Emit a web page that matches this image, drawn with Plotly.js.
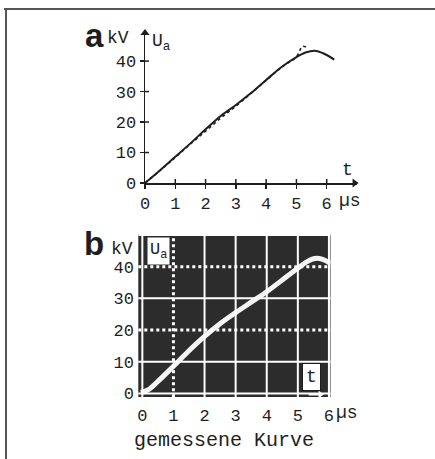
<!DOCTYPE html>
<html>
<head>
<meta charset="utf-8">
<script src="https://cdn.plot.ly/plotly-3.0.1.min.js"></script>
<style>
  html, body { margin: 0; padding: 0; background: #fff; }
  #chart { width: 435px; height: 459px; }
</style>
</head>
<body>
<div id="chart"></div>
<script>
// ─────────────────────────────
// DATA
// ─────────────────────────────
// a: calculated (solid) and dashed comparison curve
const tCalc = [0, 0.5, 1, 1.5, 2, 2.5, 3, 3.5, 4, 4.5, 5, 5.3, 5.6, 5.9, 6.25];
const uCalc = [0, 4.2, 8.6, 13, 17.6, 22, 25.6, 29.5, 33.8, 38, 41.3, 42.8, 43.4, 42.5, 40.5];
const tDash = [0, 0.5, 1, 1.5, 2, 2.5, 3, 3.5, 4, 4.5, 5, 5.2, 5.35];
const uDash = [0, 4.1, 8.4, 12.8, 17, 21.3, 25.2, 29.4, 33.7, 37.9, 41.4, 44.8, 44.4];

// b: measured curve (oscilloscope)
const tMeas = [-0.05, 0.2, 0.5, 1, 1.5, 2, 2.5, 3, 3.5, 4, 4.5, 5, 5.3, 5.55, 5.8, 6.05];
const uMeas = [0.3, 1.2, 3.8, 8.6, 13.5, 18, 22, 25.5, 28.8, 32.1, 35.8, 39.5, 41.6, 42.6, 42.3, 41];

const tTicks = [0, 1, 2, 3, 4, 5, 6];
const uTicks = [0, 10, 20, 30, 40];

// oscilloscope grid
const gridSolidT = [0, 2, 3, 4, 5, 6];
const gridDotT = [1];
const gridSolidU = [0, 10, 30, 50];
const gridDotU = [20, 40];

// axis ranges
const tRangeA = [0, 7];
const uRangeA = [0, 50.2];
const tRangeB = [-0.13, 6.05];
const uRangeB = [-1.2, 50.3];

// ─────────────────────────────
// LAYOUT HELPERS (pixel -> paper)
// ─────────────────────────────
const W = 435, H = 459;
const px = x => x / W;
const py = y => 1 - y / H;

const MONO = 'Liberation Mono, DejaVu Sans Mono, monospace';
const SANS = 'Liberation Sans, Arial, sans-serif';
const INK = '#1e1e1e';
const SCREEN = '#2c2c2c';

// chart a plot box (pixels)
const A_LEFT = 145, A_RIGHT = 357, A_TOP = 30, A_BOTTOM = 183;

function txt(x, y, text, size, extra = {}) {
  return Object.assign({
    xref: 'paper', yref: 'paper', x: px(x), y: py(y),
    text, showarrow: false, xanchor: 'center', yanchor: 'middle',
    font: { family: MONO, size, color: INK }
  }, extra);
}

// ─────────────────────────────
// TRACES
// ─────────────────────────────
const traces = [
  {
    x: tDash, y: uDash, xaxis: 'x', yaxis: 'y', mode: 'lines',
    line: { color: INK, width: 1.6, dash: 'dot', shape: 'spline' }, hoverinfo: 'skip'
  },
  {
    x: tCalc, y: uCalc, xaxis: 'x', yaxis: 'y', mode: 'lines',
    line: { color: INK, width: 2, shape: 'spline' }, hoverinfo: 'skip'
  },
  // arrow heads on the axes of chart a
  {
    x: [tRangeA[1] - 0.08], y: [0], xaxis: 'x', yaxis: 'y', mode: 'markers', cliponaxis: false,
    marker: { symbol: 'triangle-right', size: 8, color: INK }, hoverinfo: 'skip'
  },
  {
    x: [0], y: [uRangeA[1] - 1], xaxis: 'x', yaxis: 'y', mode: 'markers', cliponaxis: false,
    marker: { symbol: 'triangle-up', size: 8, color: INK }, hoverinfo: 'skip'
  },
  {
    x: tMeas, y: uMeas, xaxis: 'x2', yaxis: 'y2', mode: 'lines',
    line: { color: '#f4f4f4', width: 5, shape: 'spline' }, hoverinfo: 'skip'
  },
  // little time arrow under the "t" box
  {
    x: [5.35, 5.7], y: [-0.3, -0.3], xaxis: 'x2', yaxis: 'y2', mode: 'lines', cliponaxis: false,
    line: { color: '#fff', width: 2 }, hoverinfo: 'skip'
  },
  {
    x: [5.72], y: [-0.3], xaxis: 'x2', yaxis: 'y2', mode: 'markers', cliponaxis: false,
    marker: { symbol: 'triangle-right', size: 7, color: '#fff' }, hoverinfo: 'skip'
  }
];

// ─────────────────────────────
// SHAPES
// ─────────────────────────────
const shapes = [
  // screen background of chart b
  { type: 'rect', xref: 'x2 domain', yref: 'y2 domain', x0: 0, x1: 1, y0: 0, y1: 1,
    fillcolor: SCREEN, line: { width: 0 }, layer: 'below' },
  // page frame (top + left)
  { type: 'line', xref: 'paper', yref: 'paper', x0: px(4), x1: 1, y0: py(9), y1: py(9),
    line: { color: '#555', width: 2 } },
  { type: 'line', xref: 'paper', yref: 'paper', x0: px(6), x1: px(6), y0: py(8), y1: 0,
    line: { color: '#555', width: 2 } }
];

// inner half of the crossing ticks in chart a
tTicks.slice(1).forEach(t => shapes.push({
  type: 'line', xref: 'x', yref: 'paper', x0: t, x1: t,
  y0: py(A_BOTTOM), y1: py(A_BOTTOM - 4), line: { color: INK, width: 1.5 }
}));
uTicks.slice(1).forEach(u => shapes.push({
  type: 'line', xref: 'paper', yref: 'y', x0: px(A_LEFT), x1: px(A_LEFT + 4),
  y0: u, y1: u, line: { color: INK, width: 1.5 }
}));

// oscilloscope grid of chart b
gridSolidT.forEach(t => shapes.push({
  type: 'line', xref: 'x2', yref: 'y2 domain', x0: t, x1: t, y0: 0, y1: 1,
  line: { color: '#fff', width: 2 }
}));
gridDotT.forEach(t => shapes.push({
  type: 'line', xref: 'x2', yref: 'y2 domain', x0: t, x1: t, y0: 0, y1: 1,
  line: { color: '#fff', width: 3, dash: 'dot' }
}));
gridSolidU.forEach(u => shapes.push({
  type: 'line', xref: 'x2 domain', yref: 'y2', x0: 0, x1: 1, y0: u, y1: u,
  line: { color: '#fff', width: 2 }
}));
gridDotU.forEach(u => shapes.push({
  type: 'line', xref: 'x2 domain', yref: 'y2', x0: 0, x1: 1, y0: u, y1: u,
  line: { color: '#fff', width: 3, dash: 'dot' }
}));

// ─────────────────────────────
// ANNOTATIONS
// ─────────────────────────────
const annotations = [
  // chart a
  txt(94, 36, '<b>a</b>', 33, { font: { family: SANS, size: 33, color: INK } }),
  txt(118, 38, 'kV', 18),
  txt(161, 42, 'U<sub>a</sub>', 18),
  txt(347, 170, 't', 18),
  txt(350, 201, 'µs', 18),

  // chart b
  txt(94, 243, '<b>b</b>', 33, { font: { family: SANS, size: 33, color: INK } }),
  txt(122, 249, 'kV', 18),
  txt(158, 251, 'U<sub>a</sub>', 17, { bgcolor: '#fff', borderpad: 2 }),
  txt(311, 377, 't', 18, { bgcolor: '#fff', bordercolor: INK, borderwidth: 1, borderpad: 3 }),
  txt(347, 413, 'µs', 18),
  txt(224, 440, 'gemessene Kurve', 20)
];

// ─────────────────────────────
// LAYOUT
// ─────────────────────────────
const tickFont = { family: MONO, size: 17, color: INK };

const layout = {
  width: W, height: H,
  margin: { l: 0, r: 0, t: 0, b: 0 },
  paper_bgcolor: '#fff',
  plot_bgcolor: 'rgba(0,0,0,0)',
  showlegend: false,
  font: { family: MONO, color: INK },

  // chart a
  xaxis: {
    domain: [px(A_LEFT), px(A_RIGHT)], range: tRangeA, anchor: 'y',
    tickvals: tTicks, ticktext: tTicks.map(String), tickfont: tickFont,
    ticks: 'outside', ticklen: 4, tickwidth: 1.5, tickcolor: INK, ticklabelstandoff: 0,
    showline: true, linecolor: INK, linewidth: 1.5, showgrid: false, zeroline: false
  },
  yaxis: {
    domain: [py(A_BOTTOM), py(A_TOP)], range: uRangeA, anchor: 'x',
    tickvals: uTicks, ticktext: uTicks.map(String), tickfont: tickFont,
    ticks: 'outside', ticklen: 4, tickwidth: 1.5, tickcolor: INK, ticklabelstandoff: 0,
    showline: true, linecolor: INK, linewidth: 1.5, showgrid: false, zeroline: false
  },

  // chart b
  xaxis2: {
    domain: [px(138.3), px(330.5)], range: tRangeB, anchor: 'y2',
    tickvals: tTicks, ticktext: tTicks.map(String), tickfont: tickFont,
    ticks: '', ticklabelstandoff: 2,
    showline: true, mirror: true, linecolor: '#fff', linewidth: 1,
    showgrid: false, zeroline: false
  },
  yaxis2: {
    domain: [py(397.3), py(234)], range: uRangeB, anchor: 'x2',
    tickvals: uTicks, ticktext: uTicks.map(String), tickfont: tickFont,
    ticks: '', ticklabelstandoff: 0,
    showline: true, mirror: true, linecolor: '#fff', linewidth: 1,
    showgrid: false, zeroline: false
  },

  shapes,
  annotations
};

Plotly.newPlot('chart', traces, layout, { staticPlot: true, displayModeBar: false });
</script>
</body>
</html>
